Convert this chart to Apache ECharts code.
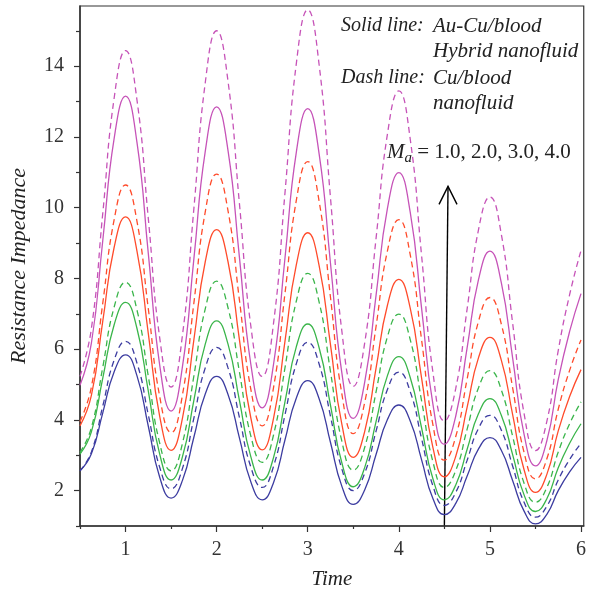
<!DOCTYPE html>
<html><head><meta charset="utf-8">
<script src="https://cdn.jsdelivr.net/npm/echarts@6/dist/echarts.min.js"></script>
<style>html,body{margin:0;padding:0;background:#fff}#c{width:589px;height:595px}</style>
</head><body><div id="c"></div><script>
// Time samples
const times = [0.5,0.625,0.75,0.875,1,1.125,1.25,1.375,1.5,1.625,1.75,1.875,2,2.125,2.25,2.375,2.5,2.625,2.75,2.875,3,3.125,3.25,3.375,3.5,3.625,3.75,3.875,4,4.125,4.25,4.375,4.5,4.625,4.75,4.875,5,5.125,5.25,5.375,5.5,5.625,5.75,5.875,6];
// Solid lines: Au-Cu/blood hybrid nanofluid, Ma = 1..4
const solidMa1 = [2.56,3.04,4.20,5.36,5.84,5.25,3.82,2.38,1.79,2.29,3.51,4.73,5.23,4.72,3.49,2.25,1.74,2.23,3.43,4.62,5.11,4.60,3.36,2.12,1.61,2.02,3.02,4.01,4.42,3.97,2.87,1.77,1.32,1.64,2.41,3.18,3.50,3.14,2.28,1.42,1.06,1.33,2.00,2.53,2.94];
const solidMa2 = [3.03,3.66,5.18,6.69,7.32,6.59,4.81,3.03,2.30,2.96,4.55,6.14,6.80,6.14,4.55,2.96,2.30,2.94,4.51,6.07,6.71,6.04,4.41,2.78,2.11,2.65,3.95,5.25,5.79,5.20,3.77,2.33,1.74,2.16,3.17,4.18,4.60,4.13,3.01,1.88,1.41,1.77,2.65,3.34,3.89];
const solidMa3 = [3.83,4.69,6.79,8.88,9.74,8.78,6.44,4.10,3.14,4.05,6.26,8.47,9.38,8.47,6.27,4.06,3.15,4.05,6.22,8.39,9.29,8.36,6.12,3.87,2.94,3.67,5.46,7.24,7.97,7.16,5.18,3.21,2.39,2.97,4.36,5.76,6.33,5.69,4.14,2.59,1.95,2.46,3.69,4.66,5.42];
const solidMa4 = [4.98,6.17,9.07,11.96,13.15,11.85,8.70,5.55,4.25,5.51,8.55,11.59,12.85,11.61,8.60,5.58,4.34,5.58,8.57,11.57,12.80,11.52,8.42,5.32,4.04,5.06,7.52,9.98,10.99,9.87,7.15,4.43,3.31,4.11,6.04,7.97,8.77,7.88,5.74,3.59,2.70,3.41,5.14,6.50,7.57];
// Dashed lines: Cu/blood nanofluid, Ma = 1..4
const dashMa1 = [2.56,3.09,4.39,5.69,6.22,5.61,4.14,2.66,2.05,2.63,4.05,5.47,6.05,5.47,4.07,2.67,2.09,2.69,4.14,5.59,6.19,5.58,4.10,2.61,2.00,2.49,3.68,4.86,5.35,4.80,3.47,2.13,1.58,1.95,2.86,3.76,4.13,3.71,2.69,1.67,1.25,1.56,2.30,2.88,3.34];
const dashMa2 = [3.08,3.78,5.49,7.19,7.89,7.11,5.23,3.34,2.56,3.34,5.24,7.14,7.92,7.17,5.36,3.55,2.80,3.58,5.47,7.36,8.14,7.33,5.36,3.39,2.58,3.22,4.79,6.35,6.99,6.27,4.54,2.81,2.09,2.57,3.74,4.91,5.39,4.85,3.53,2.21,1.67,2.09,3.09,3.89,4.51];
const dashMa3 = [3.95,4.93,7.30,9.66,10.64,9.62,7.14,4.66,3.64,4.71,7.30,9.88,10.95,9.91,7.39,4.87,3.83,4.92,7.57,10.21,11.30,10.18,7.46,4.73,3.61,4.49,6.64,8.78,9.66,8.67,6.26,3.85,2.86,3.53,5.16,6.79,7.46,6.71,4.90,3.08,2.33,2.90,4.30,5.40,6.26];
const dashMa4 = [5.23,6.58,9.84,13.10,14.44,13.05,9.69,6.32,4.93,6.40,9.97,13.53,15.00,13.57,10.12,6.66,5.23,6.74,10.41,14.08,15.59,14.04,10.27,6.50,4.95,6.17,9.13,12.08,13.30,11.94,8.64,5.33,3.97,4.89,7.14,9.38,10.30,9.25,6.72,4.18,3.13,3.96,5.96,7.54,8.79];
// Axis ticks
const xMajorTicks = [1,2,3,4,5,6];
const xMinorTicks = [0.5,1.5,2.5,3.5,4.5,5.5];
const yMajorTicks = [2,4,6,8,10,12,14];
const yMinorTicks = [1,3,5,7,9,11,13,15];
// Arrow annotation (data coords)
const arrowFrom = [4.5, 1.0];
const arrowTo = [4.54, 10.6];

const colors = ['#3c3ca0','#3ab54a','#ff4b2b','#c653b8'];
const SERIF = '"Liberation Serif", "Times New Roman", serif';
const pairs = arr => times.map((t,i)=>[t,arr[i]]);

function mk(name, arr, color, dashed){
  return {name, type:'line', data:pairs(arr), showSymbol:false, smooth:true,
    lineStyle:{color, width:1.3, type: dashed?[6,4]:'solid'}, silent:true, animation:false};
}
const series = [
  mk('Solid Ma=1', solidMa1, colors[0], false),
  mk('Dash Ma=1', dashMa1, colors[0], true),
  mk('Solid Ma=2', solidMa2, colors[1], false),
  mk('Dash Ma=2', dashMa2, colors[1], true),
  mk('Solid Ma=3', solidMa3, colors[2], false),
  mk('Dash Ma=3', dashMa3, colors[2], true),
  mk('Solid Ma=4', solidMa4, colors[3], false),
  mk('Dash Ma=4', dashMa4, colors[3], true)
];

const axisCol = '#333';
const chart = echarts.init(document.getElementById('c'));
chart.setOption({
  animation:false,
  backgroundColor:'#fff',
  grid:{left:78, right:3, top:6, bottom:65, show:true, borderColor:axisCol, borderWidth:1.2, backgroundColor:'transparent'},
  xAxis:[{
    type:'value', min:0.5, max:6.03,
    name:'Time', nameLocation:'middle', nameGap:43,
    nameTextStyle:{fontFamily:SERIF, fontStyle:'italic', fontSize:21, color:'#222'},
    axisLine:{show:true, lineStyle:{color:axisCol, width:1.5}},
    axisTick:{show:true, customValues:xMajorTicks, length:6, lineStyle:{color:axisCol, width:1.2}},
    axisLabel:{customValues:xMajorTicks, margin:14, fontFamily:SERIF, fontSize:20, color:'#333'},
    splitLine:{show:false}
  },{
    type:'value', min:0.5, max:6.03, position:'bottom',
    axisLine:{show:false},
    axisTick:{show:true, customValues:xMinorTicks, length:3, lineStyle:{color:axisCol, width:1.2}},
    axisLabel:{show:false}, splitLine:{show:false}
  }],
  yAxis:[{
    type:'value', min:1, max:15.7,
    name:'Resistance Impedance', nameLocation:'middle', nameGap:50,
    nameTextStyle:{fontFamily:SERIF, fontStyle:'italic', fontSize:22, color:'#222'},
    axisLine:{show:true, lineStyle:{color:axisCol, width:1.5}},
    axisTick:{show:true, customValues:yMajorTicks, length:6, lineStyle:{color:axisCol, width:1.2}},
    axisLabel:{customValues:yMajorTicks, margin:16, fontFamily:SERIF, fontSize:20, color:'#333'},
    splitLine:{show:false}
  },{
    type:'value', min:1, max:15.7, position:'left',
    axisLine:{show:false},
    axisTick:{show:true, customValues:yMinorTicks, length:4, lineStyle:{color:axisCol, width:1.2}},
    axisLabel:{show:false}, splitLine:{show:false}
  }],
  series
});

const p0 = chart.convertToPixel({xAxisIndex:0, yAxisIndex:0}, arrowFrom);
const p1 = chart.convertToPixel({xAxisIndex:0, yAxisIndex:0}, arrowTo);
const txt = (x,y,text,size)=>({type:'text', x, y, style:{text, fontFamily:SERIF, fontStyle:'italic', fontSize:size||21, fill:'#222', textVerticalAlign:'middle', textAlign:'left'}, silent:true});
chart.setOption({
  graphic:[
    {type:'line', shape:{x1:p0[0], y1:p0[1], x2:p1[0], y2:p1[1]}, style:{stroke:'#000', lineWidth:1.4}, silent:true},
    {type:'polyline', shape:{points:[[p1[0]-9,p1[1]+18],[p1[0],p1[1]],[p1[0]+9,p1[1]+18]]}, style:{stroke:'#000', lineWidth:1.4, fill:null}, silent:true},
    txt(341,26,'Solid line:',20),
    txt(433,26,'Au-Cu/blood'),
    txt(433,51,'Hybrid nanofluid'),
    txt(341,78,'Dash line:',20),
    txt(433,78,'Cu/blood'),
    txt(433,103,'nanofluid'),
    {type:'text', x:387, y:152, silent:true, style:{
      text:'{m|M}{s|a}{r| = 1.0, 2.0, 3.0, 4.0}',
      textVerticalAlign:'middle', textAlign:'left',
      rich:{
        m:{fontFamily:SERIF, fontStyle:'italic', fontSize:21, fill:'#222', color:'#222'},
        s:{fontFamily:SERIF, fontStyle:'italic', fontSize:15, fill:'#222', color:'#222', padding:[12,0,0,0]},
        r:{fontFamily:SERIF, fontSize:21, fill:'#222', color:'#222'}
      }}}
  ]
});
</script></body></html>
